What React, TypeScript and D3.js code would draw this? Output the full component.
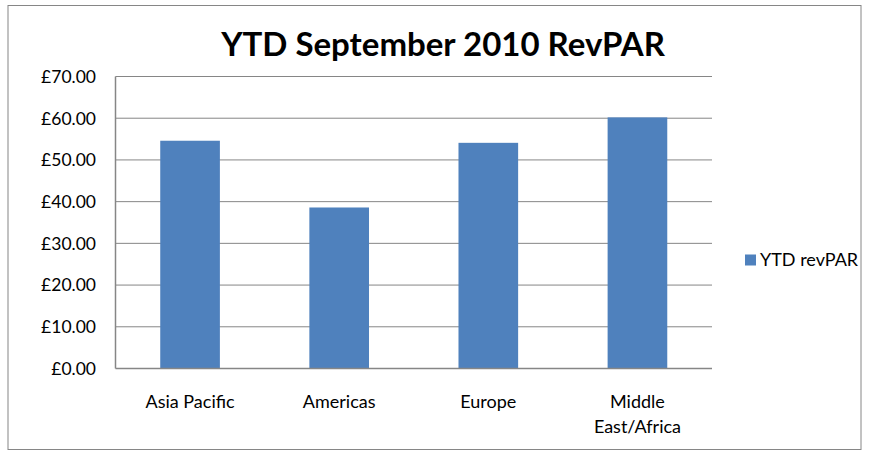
import React from "react";
import * as d3 from "d3";

const categories: string[][] = [["Asia Pacific"], ["Americas"], ["Europe"], ["Middle", "East/Africa"]];
const values: number[] = [54.6, 38.6, 54.1, 60.2];
const yTicks: number[] = [0, 10, 20, 30, 40, 50, 60, 70];
const title = "YTD September 2010 RevPAR";
const seriesName = "YTD revPAR";

const W = 871;
const H = 451;
const margin = { left: 115.5, right: 159, top: 76.5, bottom: 82.5 };
const FONT = "Lato, 'Carlito', Calibri, sans-serif";

export default function App() {
  const plotW = W - margin.left - margin.right;
  const plotH = H - margin.top - margin.bottom;
  const x = d3
    .scaleBand<number>()
    .domain(categories.map((_, i) => i))
    .range([margin.left, margin.left + plotW])
    .paddingInner(0.6)
    .paddingOuter(0.3);
  const y = d3.scaleLinear().domain([0, 70]).range([margin.top + plotH, margin.top]);
  const fmt = (v: number) => "£" + d3.format(".2f")(v);

  return (
    <svg width={W} height={H} style={{ position: "absolute", left: 0, top: 0, display: "block" }}>
      <rect x={0} y={0} width={W} height={H} fill="#fff" />
      <rect x={8} y={5.5} width={853} height={444} fill="#fff" stroke="#868686" strokeWidth={1} />
      <text x={443} y={56} textAnchor="middle" fontFamily={FONT} fontWeight="bold" fontSize={33} fill="#000">
        {title}
      </text>
      {yTicks.map((t) => (
        <g key={t}>
          {t > 0 && (
            <line x1={margin.left} x2={margin.left + plotW} y1={y(t)} y2={y(t)} stroke="#868686" strokeWidth={1} />
          )}
          <text x={96} y={y(t)} dy="0.36em" textAnchor="end" fontFamily={FONT} fontSize={17.5} fill="#000">
            {fmt(t)}
          </text>
        </g>
      ))}
      {values.map((v, i) => (
        <rect key={i} x={x(i)} y={y(v)} width={x.bandwidth()} height={y(0) - y(v)} fill="#4F81BD" />
      ))}
      <line x1={margin.left} x2={margin.left} y1={margin.top} y2={y(0)} stroke="#868686" strokeWidth={1.5} />
      <line x1={margin.left} x2={margin.left + plotW} y1={y(0)} y2={y(0)} stroke="#868686" strokeWidth={1.5} />
      {categories.map((lines, i) => (
        <text key={i} textAnchor="middle" fontFamily={FONT} fontSize={18} fill="#000">
          {lines.map((l, j) => (
            <tspan key={j} x={(x(i) as number) + x.bandwidth() / 2} y={408 + j * 24.5}>
              {l}
            </tspan>
          ))}
        </text>
      ))}
      <rect x={745} y={254.5} width={11} height={11} fill="#4F81BD" />
      <text x={760} y={266} fontFamily={FONT} fontSize={18} fill="#000">
        {seriesName}
      </text>
    </svg>
  );
}
